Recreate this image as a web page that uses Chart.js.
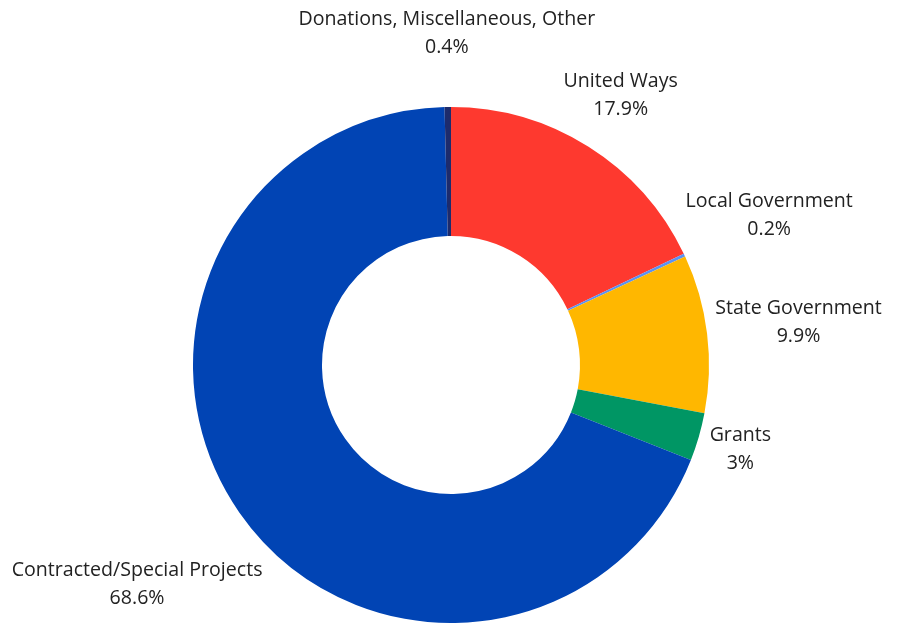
<!DOCTYPE html>
<html>
<head>
<meta charset="utf-8">
<script src="https://cdn.jsdelivr.net/npm/chart.js@4/dist/chart.umd.min.js"></script>
<style>
  html, body { margin: 0; padding: 0; background: #fff; }
  #wrap { width: 897px; height: 623px; }
</style>
</head>
<body>
<div id="wrap"><canvas id="fundingChart" width="897" height="623"></canvas></div>
<script>
  // Fuentes de financiamiento (porcentajes)
  var categories = ['United Ways', 'Local Government', 'State Government', 'Grants',
    'Contracted/Special Projects', 'Donations, Miscellaneous, Other'];
  var shares = [17.9, 0.2, 9.9, 3, 68.6, 0.4];
  var sliceColors = ['#FE392F', '#5C92F2', '#FFB700', '#009664', '#0144B4', '#1D2B6C'];

  var labelFont = '19.6px "Open Sans", sans-serif';
  var lineGap = 28;
  var labelGap = 6;

  // Etiquetas fuera del anillo, sin líneas guía
  var outsideLabels = {
    id: 'outsideLabels',
    afterDraw: function (chart) {
      var ctx = chart.ctx;
      var meta = chart.getDatasetMeta(0);
      var placed = [];
      ctx.save();
      ctx.font = labelFont;
      ctx.fillStyle = '#222';
      ctx.textAlign = 'center';
      ctx.textBaseline = 'middle';
      meta.data.forEach(function (arc, i) {
        var lines = [categories[i], String(shares[i]) + '%'];
        var w = Math.max(ctx.measureText(lines[0]).width, ctx.measureText(lines[1]).width);
        var h = lines.length * lineGap;
        var mid = (arc.startAngle + arc.endAngle) / 2;
        var dx = Math.cos(mid), dy = Math.sin(mid);
        var dist = arc.outerRadius + labelGap + Math.abs(dx) * w / 2 + Math.abs(dy) * h / 2;
        var cx, cy, box;
        // empujar hacia afuera si choca con otra etiqueta
        for (var k = 0; k < 200; k++) {
          cx = arc.x + dx * dist;
          cy = arc.y + dy * dist;
          box = { l: cx - w / 2, r: cx + w / 2, t: cy - h / 2 - 3, b: cy + h / 2 + 3 };
          var hit = placed.some(function (p) {
            return box.l < p.r && box.r > p.l && box.t < p.b && box.b > p.t;
          });
          if (!hit) break;
          dist += 1;
        }
        placed.push(box);
        ctx.fillText(lines[0], cx, cy - lineGap / 2);
        ctx.fillText(lines[1], cx, cy + lineGap / 2);
      });
      ctx.restore();
    }
  };

  var fundingCtx = document.getElementById('fundingChart').getContext('2d');
  new Chart(fundingCtx, {
    type: 'doughnut',
    data: {
      labels: categories,
      datasets: [{
        data: shares,
        backgroundColor: sliceColors,
        borderWidth: 0
      }]
    },
    options: {
      responsive: false,
      animation: false,
      cutout: '50%',
      layout: { padding: { top: 107, bottom: 0, left: 5, right: 0 } },
      plugins: {
        legend: { display: false },
        tooltip: { enabled: false }
      }
    },
    plugins: [outsideLabels]
  });
</script>
</body>
</html>
